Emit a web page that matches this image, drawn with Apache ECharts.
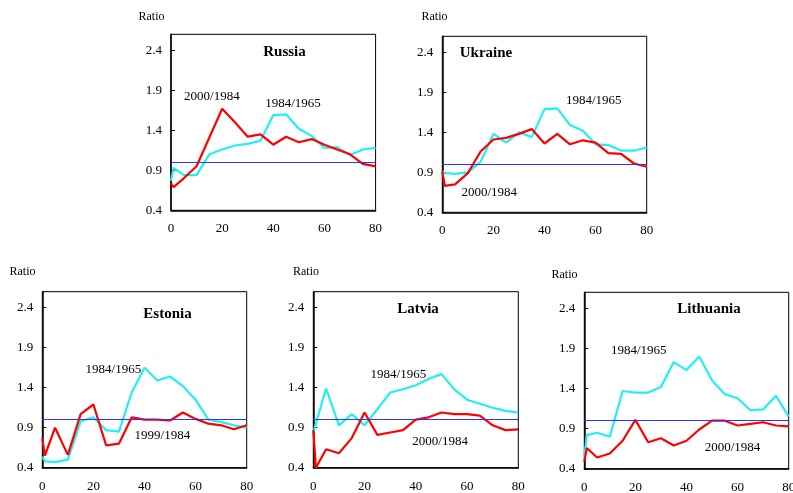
<!DOCTYPE html>
<html>
<head>
<meta charset="utf-8">
<script src="https://cdn.jsdelivr.net/npm/echarts@6/dist/echarts.min.js"></script>
<style>
html,body{margin:0;padding:0;background:#fff;}
#chart{width:793px;height:493px;}
</style>
</head>
<body>
<div id="chart"></div>
<script>
// ---- data ----
const ages = [0,1,5,10,15,20,25,30,35,40,45,50,55,60,65,70,75,80];
const xTicks = [0,20,40,60,80];
const yTicks = [0.4,0.9,1.4,1.9,2.4];
const refLevel = 1.0;

const russia1984_1965 = [0.77,0.93,0.84,0.84,1.10,1.16,1.21,1.23,1.27,1.59,1.60,1.42,1.33,1.18,1.19,1.09,1.16,1.18];
const russia2000_1984 = [0.74,0.69,0.80,0.95,1.31,1.67,1.50,1.32,1.35,1.22,1.32,1.25,1.29,1.22,1.16,1.10,0.98,0.95];

const ukraine1984_1965 = [0.91,0.89,0.88,0.90,1.03,1.38,1.27,1.40,1.34,1.69,1.70,1.49,1.42,1.25,1.24,1.17,1.17,1.21];
const ukraine2000_1984 = [0.91,0.73,0.75,0.89,1.16,1.31,1.33,1.38,1.44,1.26,1.38,1.25,1.30,1.27,1.14,1.13,1.01,0.97];

const estonia1984_1965 = [0.54,0.48,0.47,0.50,0.98,1.03,0.87,0.85,1.34,1.65,1.49,1.54,1.42,1.25,1.00,0.97,0.93,0.90];
const estonia1999_1984 = [0.77,0.55,0.90,0.56,1.07,1.19,0.68,0.70,1.03,1.00,1.00,0.99,1.09,1.01,0.95,0.93,0.88,0.93];

const latvia1984_1965 = [0.83,0.95,1.39,0.93,1.07,0.93,1.13,1.34,1.38,1.43,1.51,1.57,1.38,1.25,1.20,1.15,1.11,1.09];
const latvia2000_1984 = [0.87,0.40,0.63,0.58,0.77,1.09,0.81,0.84,0.87,1.00,1.03,1.09,1.07,1.07,1.05,0.93,0.87,0.88];

const lithuania1984_1965 = [0.55,0.82,0.85,0.80,1.37,1.35,1.35,1.42,1.73,1.63,1.80,1.50,1.33,1.28,1.13,1.14,1.31,1.05];
const lithuania2000_1984 = [0.49,0.66,0.54,0.59,0.75,1.01,0.73,0.78,0.69,0.75,0.89,1.00,1.00,0.94,0.96,0.98,0.94,0.93];

const countries = ['Russia','Ukraine','Estonia','Latvia','Lithuania'];
const oldLabels = ['1984/1965','1984/1965','1984/1965','1984/1965','1984/1965'];
const newLabels = ['2000/1984','2000/1984','1999/1984','2000/1984','2000/1984'];
const oldSeries = [russia1984_1965, ukraine1984_1965, estonia1984_1965, latvia1984_1965, lithuania1984_1965];
const newSeries = [russia2000_1984, ukraine2000_1984, estonia1999_1984, latvia2000_1984, lithuania2000_1984];
// annotation anchor points (data coords)
const oldLabelPos = [[47.7,1.73],[59.3,1.80],[27.8,1.63],[33.2,1.57],[21.3,1.87]];
const newLabelPos = [[16,1.825],[18.4,0.65],[47,0.80],[49.5,0.73],[58,0.66]];

// ---- layout ----
const panels = [
  {left:171,   top:34.3,  width:204.6, height:176, ratioX:151.5, ratioY:16.7, titleX:284.5, titleY:52},
  {left:442.3, top:36.3,  width:204.4, height:176, ratioX:434.5, ratioY:16.7, titleX:486,   titleY:53},
  {left:42.3,  top:291.7, width:204.4, height:176, ratioX:22.5,  ratioY:272.3, titleX:167.5, titleY:314},
  {left:313.3, top:291.7, width:205,   height:176, ratioX:306,   ratioY:272.3, titleX:418,   titleY:309},
  {left:584.3, top:292.3, width:204.4, height:176.5, ratioX:564.5, ratioY:275, titleX:709, titleY:309}
];

const SERIF = '"Liberation Serif","DejaVu Serif",serif';
const CYAN = '#22f0f0', RED = '#ff0000', BLUE = '#3030ff';

const grid = [], xAxis = [], yAxis = [], series = [], graphic = [];
panels.forEach((p, i) => {
  grid.push({left:p.left, top:p.top, width:p.width, height:p.height, show:true,
    borderColor:'#000', borderWidth:1, backgroundColor:'transparent',
    containLabel:false, outerBoundsMode:'none'});
  xAxis.push({type:'value', gridIndex:i, min:0, max:80, interval:20,
    axisLine:{show:true, onZero:false, lineStyle:{color:'#000', width:1.5}},
    axisTick:{show:false}, splitLine:{show:false},
    axisLabel:{customValues:xTicks, margin:12, color:'#000', fontFamily:SERIF, fontSize:13}
  });
  yAxis.push({type:'value', gridIndex:i, min:0.4, max:2.6, interval:0.5,
    axisLine:{show:true, onZero:false, lineStyle:{color:'#000', width:1.5}},
    axisTick:{show:true, inside:true, length:4, customValues:yTicks, lineStyle:{color:'#000'}},
    splitLine:{show:false},
    axisLabel:{customValues:yTicks, margin:9, color:'#000', fontFamily:SERIF, fontSize:13,
      formatter:v => v.toFixed(1)}
  });
  series.push({type:'line', xAxisIndex:i, yAxisIndex:i, symbol:'none', silent:true,
    data:ages.map((a,k)=>[a, oldSeries[i][k]]),
    lineStyle:{color:CYAN, width:2.2}, z:3,
    markPoint:{symbol:'circle', symbolSize:1, itemStyle:{color:'rgba(0,0,0,0)'}, silent:true,
      label:{show:true, position:'inside', color:'#000', fontFamily:SERIF, fontSize:13, formatter:oldLabels[i]},
      data:[{coord:oldLabelPos[i]}]}
  });
  series.push({type:'line', xAxisIndex:i, yAxisIndex:i, symbol:'none', silent:true,
    data:ages.map((a,k)=>[a, newSeries[i][k]]),
    lineStyle:{color:RED, width:2.2}, z:4,
    markPoint:{symbol:'circle', symbolSize:1, itemStyle:{color:'rgba(0,0,0,0)'}, silent:true,
      label:{show:true, position:'inside', color:'#000', fontFamily:SERIF, fontSize:13, formatter:newLabels[i]},
      data:[{coord:newLabelPos[i]}]},
    markLine:{symbol:'none', silent:true, label:{show:false},
      lineStyle:{color:BLUE, width:1.2, type:'solid'}, data:[{yAxis:refLevel}]}
  });
  graphic.push({type:'text', x:p.ratioX, y:p.ratioY, style:{text:'Ratio', fill:'#000',
    font:'12px ' + SERIF, align:'center', verticalAlign:'middle'}});
  graphic.push({type:'text', x:p.titleX, y:p.titleY, style:{text:countries[i], fill:'#000',
    font:'bold 15px ' + SERIF, align:'center', verticalAlign:'middle'}});
});

const chart = echarts.init(document.getElementById('chart'), null, {renderer:'canvas'});
chart.setOption({animation:false, backgroundColor:'#fff', grid, xAxis, yAxis, series, graphic});
</script>
</body>
</html>
